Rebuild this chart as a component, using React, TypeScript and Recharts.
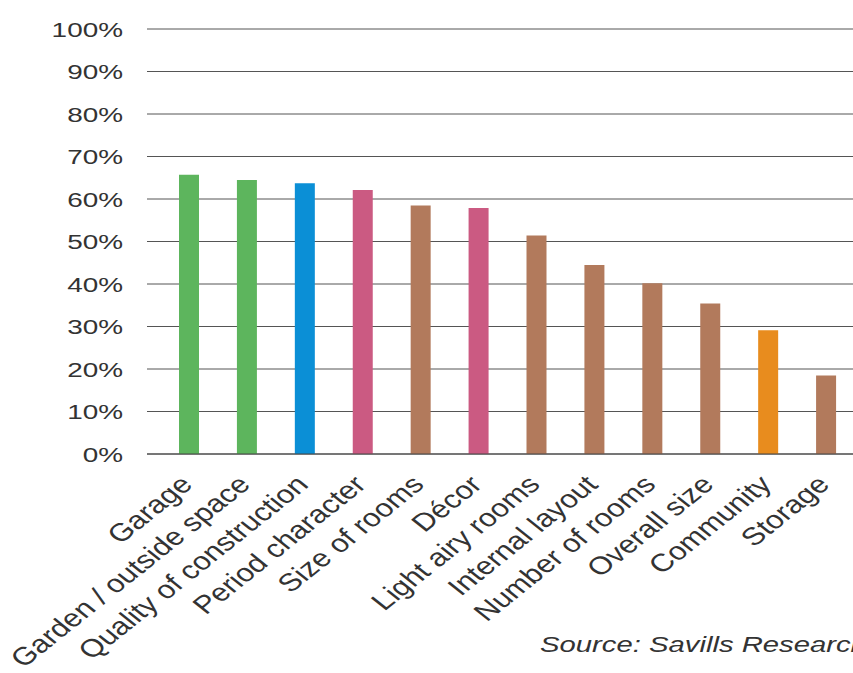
import { Bar, BarChart, CartesianGrid, Cell, XAxis, YAxis } from 'recharts';

const CATEGORIES = [
  'Garage',
  'Garden / outside space',
  'Quality of construction',
  'Period character',
  'Size of rooms',
  'Décor',
  'Light airy rooms',
  'Internal layout',
  'Number of rooms',
  'Overall size',
  'Community',
  'Storage',
];

const VALUES = [65.7, 64.5, 63.7, 62.1, 58.5, 57.9, 51.4, 44.5, 40.2, 35.4, 29.1, 18.5];

const GROUPS = [
  'outdoor',
  'outdoor',
  'build',
  'style',
  'space',
  'style',
  'space',
  'space',
  'space',
  'space',
  'location',
  'space',
];

const Y_TICKS = [0, 10, 20, 30, 40, 50, 60, 70, 80, 90, 100];

const GROUP_COLORS: Record<string, string> = {
  outdoor: '#5db55d',
  build: '#0b8fd6',
  style: '#cb5a82',
  space: '#b27a5c',
  location: '#e88c1e',
};

const FONT = '"Liberation Sans", Arial, sans-serif';
const STRETCH = 1.33;
const LABEL_STRETCH = 1.25;

const data = CATEGORIES.map((name, i) => ({ name, value: VALUES[i], group: GROUPS[i] }));

function YTick({ x, y, payload }: any) {
  return (
    <text
      transform={`translate(${x},${y}) scale(${STRETCH},1)`}
      textAnchor="end"
      dy="0.36em"
      fontSize={21}
      fontFamily={FONT}
      fill="#333"
    >
      {`${payload.value}%`}
    </text>
  );
}

function XTick({ x, y, payload }: any) {
  return (
    <g transform={`translate(${x + 5},${y + 30})`}>
      <text
        transform={`scale(${LABEL_STRETCH},1) rotate(-45)`}
        textAnchor="end"
        fontSize={25}
        fontFamily={FONT}
        fill="#333"
      >
        {payload.value}
      </text>
    </g>
  );
}

export default function App() {
  return (
    <div
      style={{
        position: 'absolute',
        left: 0,
        top: 0,
        width: 853,
        height: 673,
        overflow: 'hidden',
        background: '#fff',
      }}
    >
      <BarChart
        width={855}
        height={673}
        data={data}
        margin={{ top: 29, right: 0, bottom: 0, left: 0 }}
      >
        <CartesianGrid vertical={false} stroke="#555" />
        <XAxis
          dataKey="name"
          height={219}
          interval={0}
          tickLine={false}
          axisLine={{ stroke: '#444' }}
          tickSize={0}
          padding={{ left: 13, right: 0 }}
          tick={<XTick />}
        />
        <YAxis
          width={147}
          domain={[0, 100]}
          ticks={Y_TICKS}
          tickLine={false}
          axisLine={false}
          tickSize={0}
          tickMargin={24}
          tick={<YTick />}
        />
        <Bar dataKey="value" barSize={20} isAnimationActive={false}>
          {data.map((d) => (
            <Cell key={d.name} fill={GROUP_COLORS[d.group]} />
          ))}
        </Bar>
      </BarChart>
      <div
        style={{
          position: 'absolute',
          left: 540,
          top: 632,
          fontFamily: FONT,
          fontStyle: 'italic',
          fontSize: 22,
          color: '#333',
          whiteSpace: 'nowrap',
          transform: `scaleX(${STRETCH})`,
          transformOrigin: 'left top',
        }}
      >
        Source: Savills Research
      </div>
    </div>
  );
}
